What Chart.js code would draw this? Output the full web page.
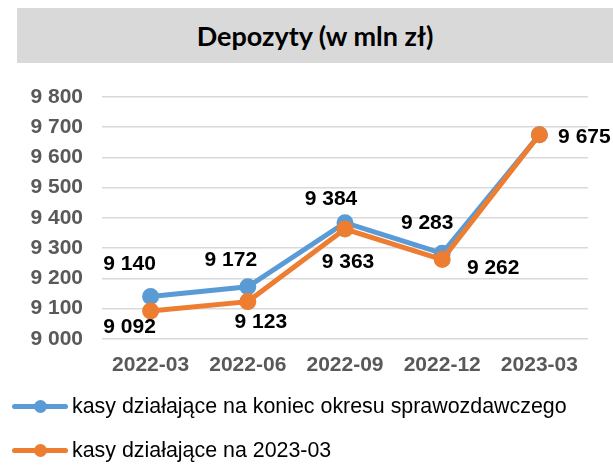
<!DOCTYPE html>
<html>
<head>
<meta charset="utf-8">
<script src="https://cdn.jsdelivr.net/npm/chart.js@4/dist/chart.umd.min.js"></script>
<style>
    body { margin: 0; background: #fff; }
    #wrap { position: relative; width: 613px; height: 469px; }
    #title {
        position: absolute; left: 17px; top: 8px; width: 596px; height: 55px;
        background: #d9d9d9; font: bold 27px Lato, "Open Sans", sans-serif; color: #000;
        display: flex; align-items: center; justify-content: center;
    }
    #chart { position: absolute; left: 0; top: 0; }
    #legend { position: absolute; left: 12px; top: 393px; font: 21.4px "Liberation Sans", Arial, sans-serif; color: #000; }
    .item { display: flex; align-items: center; height: 26px; margin-bottom: 18px; }
    .mark { position: relative; width: 56px; height: 5px; border-radius: 3px; margin-right: 4px; }
    .mark span { position: absolute; left: 22px; top: -4px; width: 13px; height: 13px; border-radius: 50%; }
</style>
</head>
<body>
<div id="wrap">
    <div id="title">Depozyty (w mln zł)</div>
    <canvas id="chart" width="613" height="469"></canvas>
    <div id="legend"></div>
</div>
<script>
let labelsX = ['2022-03', '2022-06', '2022-09', '2022-12', '2023-03'];
let kasyKoniec = [9140, 9172, 9384, 9283, 9675];
let kasy2023 = [9092, 9123, 9363, 9262, 9675];
let ticksY = [9000, 9100, 9200, 9300, 9400, 9500, 9600, 9700, 9800];
let seriesNames = ['kasy działające na koniec okresu sprawozdawczego', 'kasy działające na 2023-03'];
let colorsX = ['#5B9BD5', '#ED7D31'];

function fmt(v) {
    return v.toString().replace(/\B(?=(\d{3})+(?!\d))/g, ' ');
}

// label offsets from the point (px), per dataset; null = no label
let labelOffsets = [
    [[-21, -32], [-17, -27], [-14, -24], [-15, -30], [45, 2]],
    [[-21, 16], [13, 21], [3, 33], [51, 9], null]
];

const pointLabels = {
    id: 'pointLabels',
    afterDatasetsDraw(chart) {
        let ctx = chart.ctx;
        ctx.save();
        ctx.font = 'bold 21px "Liberation Sans", Arial, sans-serif';
        ctx.fillStyle = '#000';
        ctx.textAlign = 'center';
        ctx.textBaseline = 'middle';
        chart.data.datasets.forEach((ds, di) => {
            chart.getDatasetMeta(di).data.forEach((pt, i) => {
                let off = labelOffsets[di][i];
                if (!off) return;
                ctx.fillText(fmt(ds.data[i]), pt.x + off[0], pt.y + off[1]);
            });
        });
        ctx.restore();
    }
};

let tickFont = { family: '"Liberation Sans", Arial', size: 21, weight: 'bold' };

let chart = new Chart(document.getElementById('chart').getContext('2d'), {
    type: 'line',
    data: {
        labels: labelsX,
        datasets: [{
                label: seriesNames[0],
                data: kasyKoniec,
                borderColor: colorsX[0],
                backgroundColor: colorsX[0],
                borderWidth: 5,
                pointRadius: 6,
                order: 2
            }, {
                label: seriesNames[1],
                data: kasy2023,
                borderColor: colorsX[1],
                backgroundColor: colorsX[1],
                borderWidth: 5,
                pointRadius: 6,
                order: 1
            }]
    },
    options: {
        responsive: false,
        animation: false,
        layout: { padding: { top: 97, right: 25, bottom: 85, left: 0 } },
        plugins: { legend: { display: false }, tooltip: { enabled: false } },
        scales: {
            x: {
                offset: true,
                grid: { display: false },
                border: { display: false },
                ticks: { color: '#595959', font: tickFont, padding: 6, maxRotation: 0 }
            },
            y: {
                min: ticksY[0],
                max: ticksY[ticksY.length - 1],
                afterBuildTicks: s => { s.ticks = ticksY.map(v => ({ value: v })); },
                afterFit: s => { s.width = 102; },
                grid: { color: '#d9d9d9', lineWidth: 1.5, drawTicks: false },
                border: { display: false },
                ticks: { color: '#595959', font: tickFont, padding: 19, autoSkip: false, callback: v => fmt(v) }
            }
        }
    },
    plugins: [pointLabels]
});

let legend = document.getElementById('legend');
chart.data.datasets.forEach(ds => {
    let item = document.createElement('div');
    item.className = 'item';
    item.innerHTML = '<div class="mark" style="background:' + ds.borderColor + '"><span style="background:' + ds.borderColor + '"></span></div>' + ds.label;
    legend.appendChild(item);
});
</script>
</body>
</html>
